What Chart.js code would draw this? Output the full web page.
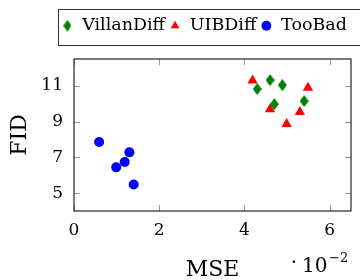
<!DOCTYPE html>
<html><head><meta charset="utf-8">
<script src="https://cdn.jsdelivr.net/npm/chart.js@4"></script>
<style>html,body{margin:0;padding:0;background:#fff}#wrap{width:360px;height:280px;position:relative}</style>
</head><body><div id="wrap"><canvas id="c"></canvas></div>
<script>
// Data (MSE in units of 10^-2)
const seriesNames = ['VillanDiff', 'UIBDiff', 'TooBad'];
const villanMSE = [4.30, 4.60, 4.89, 4.70, 5.40];
const villanFID = [10.82, 11.32, 11.04, 9.98, 10.15];
const uibMSE = [4.19, 4.60, 4.99, 5.30, 5.49];
const uibFID = [11.30, 9.69, 8.86, 9.54, 10.89];
const tooBadMSE = [0.59, 1.30, 1.19, 0.99, 1.40];
const tooBadFID = [7.86, 7.28, 6.74, 6.44, 5.48];
const xTicks = [0, 2, 4, 6];
const yTicks = [5, 7, 9, 11];
const xLabel = 'MSE';
const yLabel = 'FID';
const xScaleBase = '10';
const xScaleExp = '\u22122';

const FAMILY = '"DejaVu Serif", serif';
const toPts = (xs, ys) => xs.map((v, i) => ({x: v, y: ys[i]}));

function diamond(w, h, color) {
  const c = document.createElement('canvas');
  c.width = w; c.height = h;
  const g = c.getContext('2d');
  g.fillStyle = color;
  g.beginPath();
  g.moveTo(w / 2, 0); g.lineTo(w, h / 2); g.lineTo(w / 2, h); g.lineTo(0, h / 2);
  g.closePath(); g.fill();
  return c;
}
const greenDiamond = diamond(9, 12, '#008000');
const legendDiamond = diamond(8, 12, '#008000');

const framePlugin = {
  id: 'frame',
  afterInit(chart) {
    const lg = chart.legend;
    const of = lg.fit;
    lg.fit = function () { of.call(this); this.height = 46; };
  },
  beforeDatasetsDraw(chart) {
    const {ctx, chartArea: a, scales: {x, y}} = chart;
    ctx.save();
    ctx.strokeStyle = '#999';
    ctx.lineWidth = 1;
    x.ticks.forEach(t => {
      const px = Math.round(x.getPixelForValue(t.value)) + 0.5;
      ctx.beginPath();
      ctx.moveTo(px, a.bottom); ctx.lineTo(px, a.bottom - 6);
      ctx.moveTo(px, a.top); ctx.lineTo(px, a.top + 6);
      ctx.stroke();
    });
    y.ticks.forEach(t => {
      const py = Math.round(y.getPixelForValue(t.value)) + 0.5;
      ctx.beginPath();
      ctx.moveTo(a.left, py); ctx.lineTo(a.left + 6, py);
      ctx.moveTo(a.right, py); ctx.lineTo(a.right - 6, py);
      ctx.stroke();
    });
    ctx.strokeStyle = '#222';
    ctx.lineWidth = 1.2;
    ctx.strokeRect(a.left, a.top, a.right - a.left, a.bottom - a.top);
    ctx.restore();
  },
  afterDraw(chart) {
    const {ctx} = chart;
    ctx.save();
    const hb = chart.legend.legendHitBoxes;
    if (hb && hb.length) {
      const l = hb[0].left - 3;
      const t = hb[0].top - 8;
      ctx.strokeStyle = '#333';
      ctx.lineWidth = 1;
      ctx.strokeRect(Math.round(l) + 0.5, Math.round(t) + 0.5, 400, 36);
    }
    ctx.fillStyle = '#000';
    ctx.textBaseline = 'alphabetic';
    ctx.textAlign = 'center';
    ctx.font = '20px ' + FAMILY;
    ctx.fillText('\u00b7', 294, 269);
    ctx.textAlign = 'left';
    ctx.fillText(xScaleBase, 302, 272);
    ctx.font = '13px ' + FAMILY;
    ctx.fillText(xScaleExp, 329, 262);
    ctx.restore();
  }
};

new Chart(document.getElementById('c'), {
  type: 'scatter',
  data: {
    datasets: [
      {label: seriesNames[0], data: toPts(villanMSE, villanFID), pointStyle: greenDiamond,
       backgroundColor: '#008000', borderColor: '#008000', pointRadius: 6},
      {label: seriesNames[1], data: toPts(uibMSE, uibFID), pointStyle: 'triangle',
       backgroundColor: '#ff0000', borderColor: '#ff0000', pointRadius: 6, borderWidth: 0},
      {label: seriesNames[2], data: toPts(tooBadMSE, tooBadFID), pointStyle: 'circle',
       backgroundColor: '#0000ff', borderColor: '#0000ff', pointRadius: 5, borderWidth: 0}
    ]
  },
  options: {
    responsive: true,
    maintainAspectRatio: false,
    animation: false,
    devicePixelRatio: 1,
    layout: {padding: {top: 13, right: 9, left: 0, bottom: 0}},
    plugins: {
      tooltip: {enabled: false},
      legend: {
        display: true,
        position: 'top',
        align: 'end',
        labels: {
          usePointStyle: true,
          boxWidth: 12,
          boxHeight: 7,
          padding: 4,
          color: '#000',
          font: {family: FAMILY, size: 17.5},
          generateLabels(chart) {
            const items = Chart.defaults.plugins.legend.labels.generateLabels(chart);
            items.forEach(it => { if (it.datasetIndex === 0) it.pointStyle = legendDiamond; it.lineWidth = 0; });
            return items;
          }
        }
      }
    },
    scales: {
      x: {
        type: 'linear', min: 0, max: 6.5,
        afterBuildTicks: s => { s.ticks = xTicks.map(v => ({value: v})); },
        afterFit: s => { s.height = 69; },
        grid: {display: false, drawTicks: false},
        border: {display: false},
        ticks: {padding: 9, color: '#000', font: {family: FAMILY, size: 17}, callback: v => String(v)},
        title: {display: true, text: xLabel, color: '#000', font: {family: FAMILY, size: 22}, padding: {top: 0, bottom: -3}}
      },
      y: {
        type: 'linear', min: 4, max: 12.5,
        afterBuildTicks: s => { s.ticks = yTicks.map(v => ({value: v})); },
        afterFit: s => { s.width = 74; },
        grid: {display: false, drawTicks: false},
        border: {display: false},
        ticks: {padding: 11, color: '#000', font: {family: FAMILY, size: 17}, callback: v => String(v)},
        title: {display: true, text: yLabel, color: '#000', font: {family: FAMILY, size: 22}, padding: {top: 7, bottom: 0}}
      }
    }
  },
  plugins: [framePlugin]
});
</script>
</body></html>
